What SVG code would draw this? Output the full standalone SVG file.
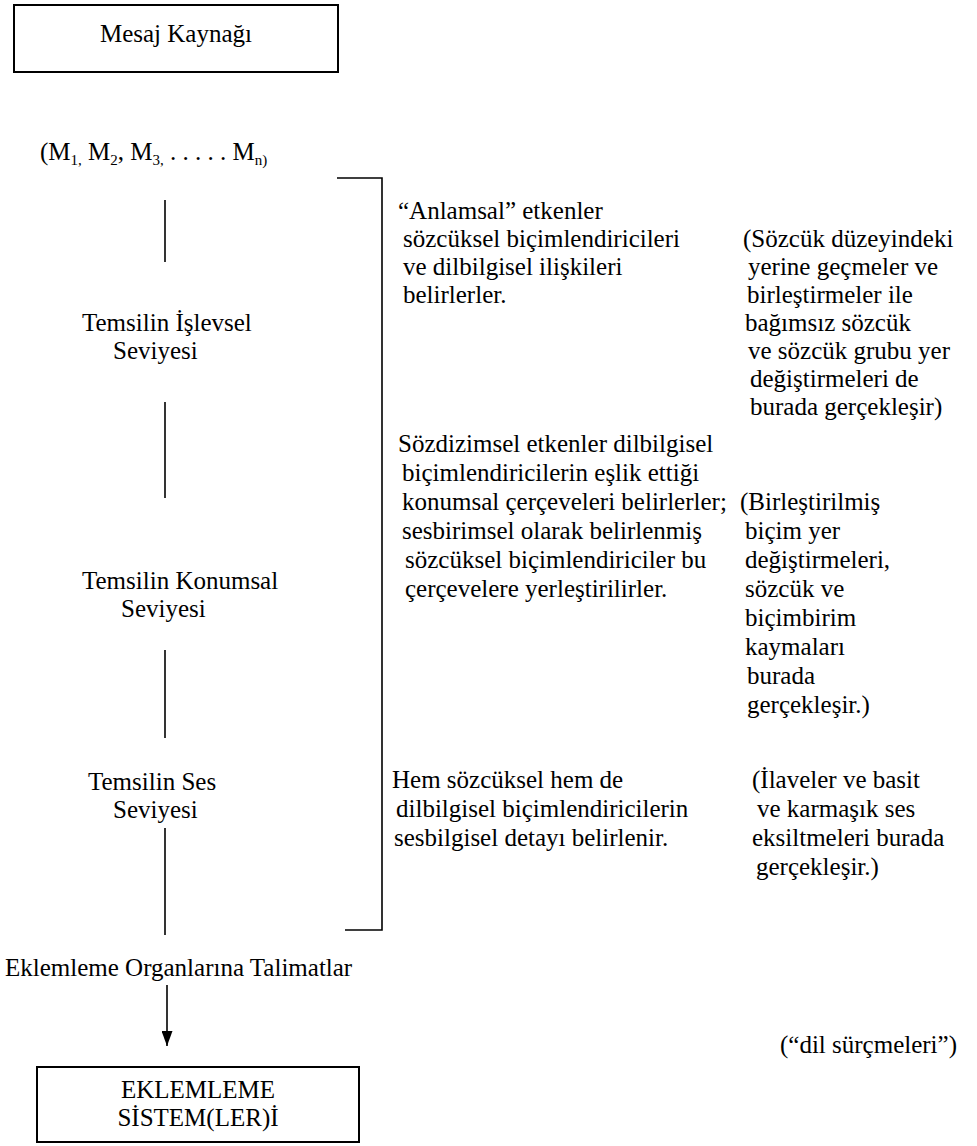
<svg xmlns="http://www.w3.org/2000/svg" width="977" height="1146" viewBox="0 0 977 1146">
<defs>
<style>
text{font-family:'Liberation Serif','Times New Roman','DejaVu Serif',serif;font-size:25px;fill:#000}
.box{fill:#fff;stroke:#000;stroke-width:2}
.ln{stroke:#000;stroke-width:1.6;fill:none}
.sub{font-size:15px}
</style>
<marker id="ah" markerWidth="15" markerHeight="11" refX="15" refY="5.5" orient="auto" markerUnits="userSpaceOnUse" viewBox="0 0 15 11">
<path d="M0,0 L15,5.5 L0,11 Z" fill="#000"/>
</marker>
</defs>
<rect width="977" height="1146" fill="#fff"/>
<g id="source">
<rect class="box" x="14" y="5" width="324" height="67"/>
<text x="176" y="42" text-anchor="middle">Mesaj Kaynağı</text>
</g>
<g id="messages">
<text x="40" y="160">(M<tspan class="sub" dy="5">1,</tspan><tspan dy="-5"> M</tspan><tspan class="sub" dy="5">2</tspan><tspan dy="-5">, M</tspan><tspan class="sub" dy="5">3,</tspan><tspan dy="-5"> . . . . . M</tspan><tspan class="sub" dy="5">n)</tspan></text>
</g>
<g id="connectors">
<line class="ln" x1="165" y1="200" x2="165" y2="262"/>
<line class="ln" x1="165" y1="402" x2="165" y2="498"/>
<line class="ln" x1="165" y1="650" x2="165" y2="738"/>
<line class="ln" x1="165" y1="828" x2="165" y2="935"/>
<line class="ln" x1="167" y1="985" x2="167" y2="1046" marker-end="url(#ah)"/>
<path class="ln" d="M337,178 H382 V930 H345"/>
</g>
<g id="functional">
<text x="82" y="331">Temsilin İşlevsel</text>
<text x="113" y="359">Seviyesi</text>
</g>
<g id="positional">
<text x="82" y="589">Temsilin Konumsal</text>
<text x="121" y="617">Seviyesi</text>
</g>
<g id="sound">
<text x="88" y="790">Temsilin Ses</text>
<text x="113" y="818">Seviyesi</text>
</g>
<g id="semantic">
<text x="398" y="219">“Anlamsal” etkenler</text>
<text x="403" y="247">sözcüksel biçimlendiricileri</text>
<text x="403" y="275">ve dilbilgisel ilişkileri</text>
<text x="403" y="303">belirlerler.</text>
</g>
<g id="note1">
<text x="743" y="247">(Sözcük düzeyindeki</text>
<text x="748" y="275">yerine geçmeler ve</text>
<text x="747" y="303">birleştirmeler ile</text>
<text x="745" y="331">bağımsız sözcük</text>
<text x="748" y="359">ve sözcük grubu yer</text>
<text x="750" y="387">değiştirmeleri de</text>
<text x="750" y="415">burada gerçekleşir)</text>
</g>
<g id="syntactic">
<text x="398" y="452">Sözdizimsel etkenler  dilbilgisel</text>
<text x="402" y="481">biçimlendiricilerin eşlik ettiği</text>
<text x="402" y="510">konumsal çerçeveleri belirlerler;</text>
<text x="402" y="539">sesbirimsel olarak belirlenmiş</text>
<text x="405" y="568">sözcüksel biçimlendiriciler bu</text>
<text x="405" y="597">çerçevelere yerleştirilirler.</text>
</g>
<g id="note2">
<text x="740" y="510">(Birleştirilmiş</text>
<text x="745" y="539">biçim yer</text>
<text x="745" y="568">değiştirmeleri,</text>
<text x="745" y="597">sözcük ve</text>
<text x="745" y="626">biçimbirim</text>
<text x="745" y="655">kaymaları</text>
<text x="747" y="684">burada</text>
<text x="747" y="713">gerçekleşir.)</text>
</g>
<g id="phonological">
<text x="392" y="788">Hem sözcüksel hem de</text>
<text x="396" y="817">dilbilgisel biçimlendiricilerin</text>
<text x="394" y="846">sesbilgisel detayı belirlenir.</text>
</g>
<g id="note3">
<text x="752" y="788">(İlaveler ve basit</text>
<text x="757" y="817">ve karmaşık ses</text>
<text x="752" y="846">eksiltmeleri burada</text>
<text x="756" y="875">gerçekleşir.)</text>
</g>
<g id="instructions">
<text x="5" y="976">Eklemleme Organlarına Talimatlar</text>
</g>
<g id="slips">
<text x="780" y="1053">(“dil sürçmeleri”)</text>
</g>
<g id="articulation">
<rect class="box" x="37" y="1067" width="322" height="75"/>
<text x="198" y="1098" text-anchor="middle">EKLEMLEME</text>
<text x="198" y="1126" text-anchor="middle">SİSTEM(LER)İ</text>
</g>
</svg>
